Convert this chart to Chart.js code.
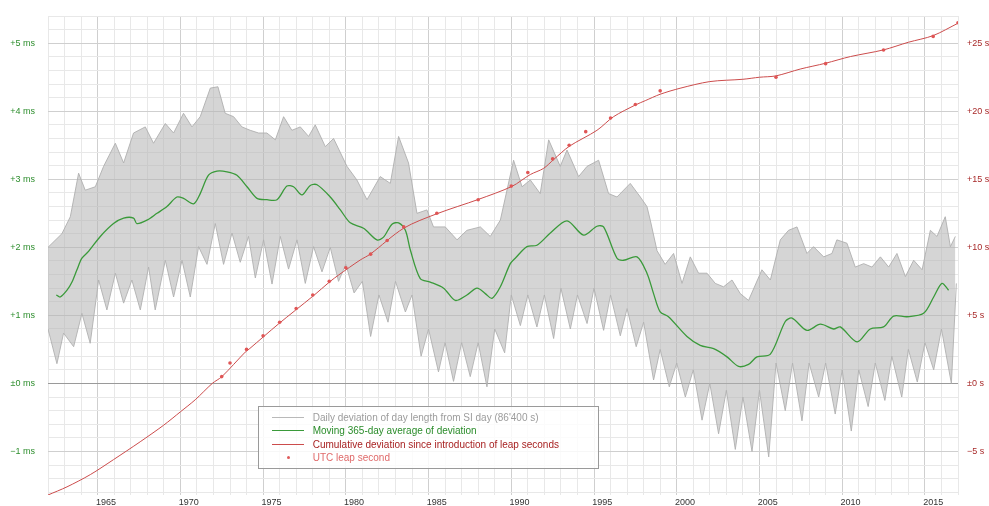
<!DOCTYPE html>
<html>
<head>
<meta charset="utf-8">
<script src="https://cdn.jsdelivr.net/npm/chart.js@4.4.1/dist/chart.umd.min.js"></script>
<style>
  html, body { margin: 0; padding: 0; background: #fff; }
  #wrap { position: relative; width: 989px; height: 506px; overflow: hidden; }
  #legend {
    position: absolute; left: 258px; top: 406px; width: 339px; height: 61px;
    border: 1px solid #9a9a9a; background: rgba(255, 255, 255, 0.82);
    font: 10px "Liberation Sans", Arial, sans-serif;
  }
  #legend .row { position: absolute; left: 0; height: 13px; line-height: 13px; white-space: nowrap; }
  #legend .sample { position: absolute; left: 12.7px; width: 32px; top: 6px; height: 1px; }
  #legend .dot { position: absolute; left: 28px; top: 5px; width: 3px; height: 3px; border-radius: 50%; background: #e05a5a; }
  #legend .label { position: absolute; left: 53.7px; top: 0; }
</style>
</head>
<body>
<div id="wrap">
  <canvas id="lod-chart" width="989" height="506"></canvas>
  <div id="legend">
    <div class="row" style="top:4px"><span class="sample" style="background:#b9b9b9"></span><span class="label" style="color:#9c9c9c">Daily deviation of day length from SI day (86'400 s)</span></div>
    <div class="row" style="top:17px"><span class="sample" style="background:#3a9a3a"></span><span class="label" style="color:#2a8c2a">Moving 365-day average of deviation</span></div>
    <div class="row" style="top:30.5px"><span class="sample" style="background:#cc4c4c"></span><span class="label" style="color:#a82222">Cumulative deviation since introduction of leap seconds</span></div>
    <div class="row" style="top:44px"><span class="dot"></span><span class="label" style="color:#e06a6a">UTC leap second</span></div>
  </div>
</div>
<script>
  // [decimal year, ms]: upper edge of the daily deviation band
  const dailyHigh = [
    [1962.0, 2.0], [1962.84, 2.2], [1963.35, 2.45], [1963.85, 3.09], [1964.25, 2.84],
    [1964.86, 2.89], [1965.36, 3.19], [1966.07, 3.53], [1966.57, 3.24], [1967.17, 3.68],
    [1967.88, 3.77], [1968.38, 3.53], [1969.09, 3.82], [1969.59, 3.68], [1970.19, 3.97],
    [1970.7, 3.77], [1971.2, 3.92], [1971.81, 4.34], [1972.27, 4.36], [1972.71, 3.97],
    [1973.22, 3.92], [1973.72, 3.77], [1974.22, 3.72], [1974.73, 3.68], [1975.23, 3.68],
    [1975.74, 3.58], [1976.24, 3.92], [1976.74, 3.72], [1977.25, 3.77], [1977.75, 3.63],
    [1978.15, 3.8], [1978.76, 3.48], [1979.26, 3.6], [1980.07, 3.19], [1980.67, 2.99],
    [1981.28, 2.7], [1982.08, 3.04], [1982.69, 2.94], [1983.19, 3.63], [1983.79, 3.24],
    [1984.3, 2.5], [1984.9, 2.55], [1985.3, 2.3], [1986.01, 2.3], [1986.72, 2.11],
    [1987.32, 2.25], [1988.13, 2.3], [1988.73, 2.16], [1989.34, 2.4], [1990.14, 3.28],
    [1990.65, 2.89], [1991.15, 2.99], [1991.75, 2.79], [1992.26, 3.58], [1992.96, 3.19],
    [1993.37, 3.43], [1994.07, 3.04], [1994.58, 3.19], [1995.28, 3.28], [1995.88, 2.79],
    [1996.39, 2.74], [1997.19, 2.94], [1997.8, 2.74], [1998.2, 2.6], [1998.4, 2.4],
    [1998.81, 1.95], [1999.3, 1.75], [1999.81, 1.91], [2000.32, 1.47], [2000.82, 1.86],
    [2001.32, 1.62], [2001.83, 1.62], [2002.33, 1.47], [2002.83, 1.42], [2003.34, 1.52],
    [2003.84, 1.32], [2004.34, 1.22], [2005.15, 1.67], [2005.66, 1.52], [2006.26, 2.11],
    [2006.76, 2.25], [2007.27, 2.3], [2007.87, 1.91], [2008.27, 2.01], [2008.88, 1.86],
    [2009.38, 1.91], [2009.68, 2.11], [2010.29, 2.06], [2010.79, 1.71], [2011.3, 1.76],
    [2011.8, 1.71], [2012.31, 1.86], [2012.81, 1.71], [2013.31, 1.91], [2013.82, 1.57],
    [2014.32, 1.81], [2014.83, 1.67], [2015.33, 2.25], [2015.73, 2.16], [2016.23, 2.45],
    [2016.54, 2.01], [2016.84, 2.16]
  ];

  // lower edge of the daily deviation band
  const dailyLow = [
    [1962.0, 0.8], [1962.54, 0.29], [1962.94, 0.74], [1963.55, 0.54], [1964.05, 1.03],
    [1964.55, 0.59], [1965.06, 1.52], [1965.56, 1.08], [1966.07, 1.62], [1966.57, 1.18],
    [1967.07, 1.52], [1967.58, 1.08], [1968.08, 1.71], [1968.48, 1.08], [1969.09, 1.81],
    [1969.59, 1.27], [1970.1, 1.81], [1970.6, 1.27], [1971.1, 2.01], [1971.61, 1.75],
    [1972.11, 2.35], [1972.61, 1.75], [1973.12, 2.21], [1973.62, 1.78], [1974.12, 2.16],
    [1974.53, 1.55], [1975.03, 2.11], [1975.54, 1.46], [1976.04, 2.16], [1976.54, 1.68],
    [1977.05, 2.11], [1977.55, 1.47], [1978.05, 2.01], [1978.56, 1.64], [1979.06, 2.0],
    [1979.56, 1.5], [1980.0, 1.75], [1980.5, 1.33], [1981.0, 1.5], [1981.5, 0.69],
    [1982.0, 1.3], [1982.55, 0.9], [1983.0, 1.5], [1983.6, 1.05], [1984.0, 1.3],
    [1984.55, 0.4], [1985.0, 0.8], [1985.6, 0.17], [1986.0, 0.6], [1986.51, 0.03],
    [1987.0, 0.6], [1987.52, 0.1], [1988.0, 0.6], [1988.53, -0.05], [1989.0, 0.8],
    [1989.6, 0.45], [1990.0, 1.3], [1990.55, 0.85], [1991.0, 1.3], [1991.55, 0.83],
    [1992.0, 1.3], [1992.56, 0.66], [1993.0, 1.4], [1993.57, 0.8], [1994.0, 1.3],
    [1994.58, 0.88], [1995.0, 1.4], [1995.58, 0.78], [1996.0, 1.3], [1996.59, 0.7],
    [1997.0, 1.1], [1997.55, 0.54], [1998.0, 0.9], [1998.6, 0.05], [1999.0, 0.5],
    [1999.55, -0.05], [2000.0, 0.3], [2000.52, -0.2], [2001.0, 0.2], [2001.53, -0.54],
    [2002.0, 0.0], [2002.53, -0.74], [2003.0, -0.1], [2003.54, -0.97], [2004.0, -0.2],
    [2004.55, -1.0], [2005.0, -0.1], [2005.56, -1.08], [2006.0, 0.3], [2006.56, -0.4],
    [2007.0, 0.3], [2007.57, -0.55], [2008.0, 0.3], [2008.58, -0.2], [2009.0, 0.3],
    [2009.58, -0.45], [2010.0, 0.2], [2010.55, -0.7], [2011.0, 0.2], [2011.57, -0.34],
    [2012.0, 0.3], [2012.58, -0.25], [2013.0, 0.4], [2013.6, -0.2], [2014.0, 0.5],
    [2014.54, 0.02], [2015.0, 0.6], [2015.53, 0.2], [2016.0, 0.8], [2016.6, 0.0],
    [2016.9, 1.47]
  ];

  // moving 365-day average (ms)
  const movingAvg = [
    [1962.5, 1.3], [1962.74, 1.27], [1963.15, 1.37], [1963.45, 1.49], [1963.75, 1.67],
    [1964.05, 1.84], [1964.45, 1.94], [1965.16, 2.16], [1965.96, 2.35], [1966.57, 2.43],
    [1967.17, 2.43], [1967.37, 2.35], [1967.98, 2.4], [1968.59, 2.5], [1969.19, 2.6],
    [1969.79, 2.74], [1970.19, 2.72], [1970.8, 2.64], [1971.2, 2.79], [1971.7, 3.06],
    [1972.21, 3.12], [1972.82, 3.11], [1973.42, 3.06], [1974.03, 2.89], [1974.63, 2.72],
    [1975.23, 2.7], [1975.84, 2.7], [1976.44, 2.9], [1976.84, 2.89], [1977.35, 2.77],
    [1977.85, 2.91], [1978.26, 2.92], [1979.06, 2.74], [1979.67, 2.55], [1980.27, 2.36],
    [1981.07, 2.28], [1981.88, 2.11], [1982.28, 2.15], [1982.79, 2.34], [1983.19, 2.36],
    [1983.6, 2.25], [1983.9, 1.96], [1984.5, 1.54], [1985.1, 1.49], [1985.91, 1.4],
    [1986.62, 1.22], [1987.32, 1.3], [1987.93, 1.4], [1988.43, 1.32], [1988.83, 1.25],
    [1989.34, 1.42], [1989.94, 1.76], [1990.24, 1.84], [1990.95, 2.01], [1991.55, 2.03],
    [1992.36, 2.21], [1993.37, 2.39], [1994.37, 2.18], [1995.18, 2.31], [1995.58, 2.3],
    [1996.39, 1.84], [1996.79, 1.81], [1997.6, 1.86], [1998.2, 1.62], [1998.6, 1.32],
    [1999.0, 1.05], [1999.5, 0.98], [2000.62, 0.69], [2001.42, 0.56], [2002.23, 0.51],
    [2003.04, 0.39], [2003.74, 0.25], [2004.34, 0.28], [2004.85, 0.39], [2005.66, 0.43],
    [2006.56, 0.91], [2006.97, 0.96], [2007.87, 0.78], [2008.68, 0.87], [2009.48, 0.8],
    [2009.89, 0.83], [2010.9, 0.61], [2011.7, 0.8], [2012.5, 0.83], [2013.11, 0.99],
    [2013.92, 0.98], [2014.92, 1.03], [2015.53, 1.27], [2016.03, 1.47], [2016.43, 1.37]
  ];

  // cumulative deviation (s)
  const cumulative = [
    [1962.0, -8.2], [1963.15, -7.6], [1964.56, -6.7], [1965.96, -5.6], [1967.57, -4.29],
    [1968.99, -3.07], [1970.0, -2.09], [1970.9, -1.2], [1971.93, 0.0], [1972.51, 0.5],
    [1973.92, 2.3], [1974.2, 2.57], [1975.94, 4.38], [1978.0, 6.4], [1979.06, 7.5],
    [1979.56, 7.96], [1980.87, 9.07], [1981.48, 9.5], [1983.49, 11.4], [1985.51, 12.47],
    [1988.03, 13.53], [1990.04, 14.48], [1991.15, 15.35], [1991.95, 15.8], [1992.56, 16.45],
    [1993.5, 17.42], [1995.18, 18.6], [1996.18, 19.6], [1997.5, 20.46], [1998.1, 20.78],
    [1999.0, 21.25], [2000.2, 21.69], [2002.0, 22.18], [2004.0, 22.35], [2005.0, 22.5],
    [2006.0, 22.6], [2007.46, 23.1], [2009.0, 23.53], [2010.5, 24.02], [2012.5, 24.51],
    [2014.0, 25.07], [2015.5, 25.56], [2017.0, 26.47]
  ];

  // UTC leap seconds: date and plotted value (s)
  const leapYears = [
    1972.5, 1973.0, 1974.0, 1975.0, 1976.0, 1977.0, 1978.0, 1979.0, 1980.0,
    1981.5, 1982.5, 1983.5, 1985.5, 1988.0, 1990.0, 1991.0, 1992.5, 1993.5,
    1994.5, 1996.0, 1997.5, 1999.0, 2006.0, 2009.0, 2012.5, 2015.5, 2017.0
  ];
  const leapValues = [
    0.5, 1.5, 2.5, 3.5, 4.5, 5.5, 6.5, 7.5, 8.5,
    9.5, 10.5, 11.5, 12.5, 13.5, 14.5, 15.5, 16.5, 17.5,
    18.5, 19.5, 20.5, 21.5, 22.5, 23.5, 24.5, 25.5, 26.5
  ];

  const yearLabels = [1965, 1970, 1975, 1980, 1985, 1990, 1995, 2000, 2005, 2010, 2015];
  const msTicks = [-1, 0, 1, 2, 3, 4, 5];
  const secTicks = [-5, 0, 5, 10, 15, 20, 25];

  const toXY = (pairs) => pairs.map((p) => ({ x: p[0], y: p[1] }));
  const font = { family: '"Liberation Sans", Arial, sans-serif', size: 9 };

  function signed(v, unit) {
    if (v === 0) return "\u00b10 " + unit;
    return (v > 0 ? "+" : "\u2212") + Math.abs(v) + " " + unit;
  }

  const canvas = document.getElementById("lod-chart");
  new Chart(canvas, {
    type: "line",
    data: {
      datasets: [
        {
          label: "daily high",
          data: toXY(dailyHigh),
          yAxisID: "y",
          borderColor: "rgba(175,175,175,0.9)",
          borderWidth: 1,
          backgroundColor: "rgba(180,180,180,0.56)",
          fill: "+1",
          pointRadius: 0,
          tension: 0,
          order: 4,
        },
        {
          label: "daily low",
          data: toXY(dailyLow),
          yAxisID: "y",
          borderColor: "rgba(175,175,175,0.9)",
          borderWidth: 1,
          fill: false,
          pointRadius: 0,
          tension: 0,
          order: 5,
        },
        {
          label: "Moving 365-day average of deviation",
          data: toXY(movingAvg),
          yAxisID: "y",
          borderColor: "#3a9a3a",
          borderWidth: 1.3,
          fill: false,
          pointRadius: 0,
          tension: 0.3,
          order: 2,
        },
        {
          label: "Cumulative deviation since introduction of leap seconds",
          data: toXY(cumulative),
          yAxisID: "yR",
          borderColor: "#cc4c4c",
          borderWidth: 1,
          fill: false,
          pointRadius: 0,
          tension: 0.3,
          order: 1,
        },
        {
          label: "UTC leap second",
          data: leapYears.map((x, i) => ({ x, y: leapValues[i] })),
          yAxisID: "yR",
          showLine: false,
          pointRadius: 1.8,
          pointBorderWidth: 0,
          pointBackgroundColor: "#e05555",
          order: 0,
        },
      ],
    },
    options: {
      responsive: false,
      animation: false,
      events: [],
      layout: { padding: 0 },
      plugins: { legend: { display: false }, tooltip: { enabled: false } },
      scales: {
        x: {
          type: "linear",
          min: 1962,
          max: 2017,
          position: "bottom",
          afterBuildTicks: (s) => {
            const t = [];
            for (let y = 1962; y <= 2017; y++) t.push({ value: y });
            s.ticks = t;
          },
          ticks: {
            autoSkip: false,
            maxRotation: 0,
            padding: 2,
            labelOffset: 8.3,
            color: "#333",
            font: font,
            callback: (v) => (yearLabels.includes(v) ? String(v) : ""),
          },
          grid: {
            drawTicks: false,
            color: (c) => (c.tick && c.tick.value % 5 === 0 ? "#cfcfcf" : "#e8e8e8"),
          },
          border: { display: false },
          afterFit: (s) => { s.height = 11; },
        },
        y: {
          type: "linear",
          position: "left",
          min: -1.64,
          max: 5.4,
          afterBuildTicks: (s) => {
            const t = [];
            for (let i = -8; i <= 27; i++) t.push({ value: Math.round(i * 2) / 10 });
            s.ticks = t;
          },
          ticks: {
            autoSkip: false,
            padding: 13,
            color: "#2e8e2e",
            font: font,
            callback: (v) => (msTicks.includes(v) ? signed(v, "ms") : ""),
          },
          grid: {
            drawTicks: false,
            color: (c) => {
              const v = c.tick ? c.tick.value : 1;
              if (v === 0) return "#9a9a9a";
              return Number.isInteger(v) ? "#cfcfcf" : "#e8e8e8";
            },
          },
          border: { display: false },
          afterFit: (s) => { s.width = 48; s.paddingTop = 16; s.paddingBottom = 0; },
        },
        yR: {
          type: "linear",
          position: "right",
          min: -8.2,
          max: 27.0,
          afterBuildTicks: (s) => {
            s.ticks = secTicks.map((v) => ({ value: v }));
          },
          ticks: {
            autoSkip: false,
            padding: 9,
            color: "#a82a2a",
            font: font,
            callback: (v) => signed(v, "s"),
          },
          grid: { display: false, drawTicks: false },
          border: { display: false },
          afterFit: (s) => { s.width = 31; s.paddingTop = 16; s.paddingBottom = 0; },
        },
      },
    },
  });
</script>
</body>
</html>
